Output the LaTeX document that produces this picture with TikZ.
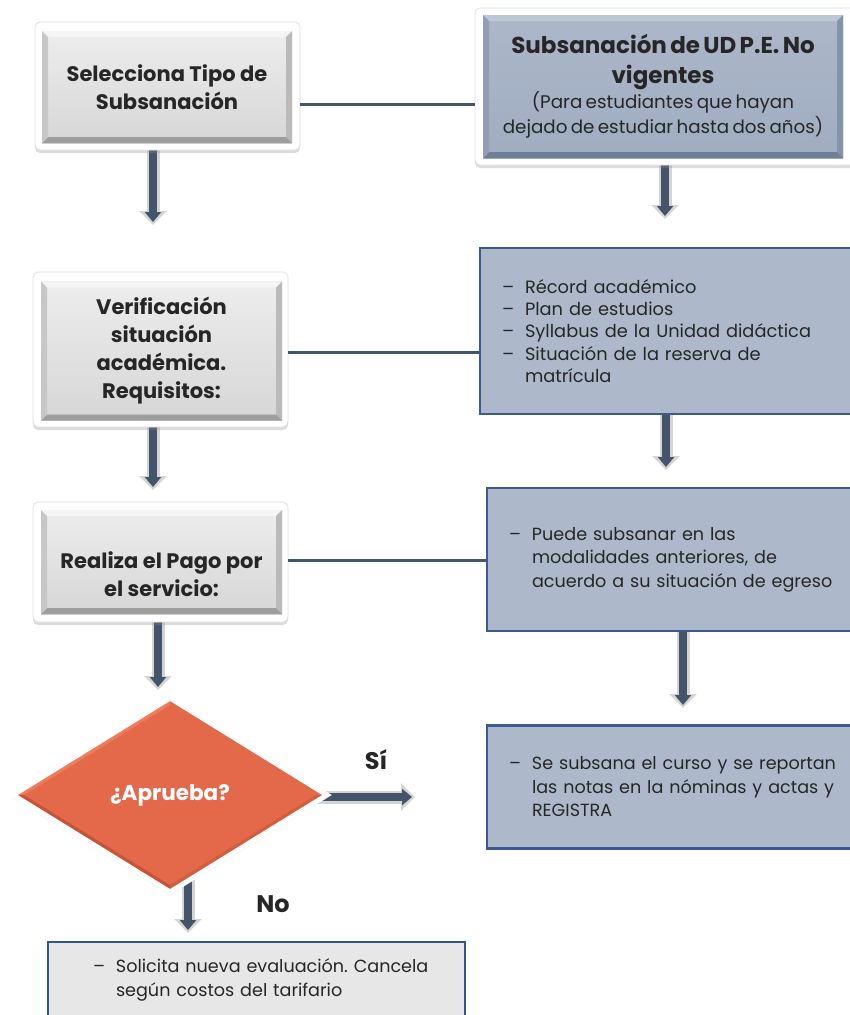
\documentclass[tikz,border=0pt]{standalone}
\usepackage{fontspec}
\setmainfont{Poppins}
\frenchspacing
\usetikzlibrary{arrows.meta,shadows,shapes.geometric,calc}

\definecolor{slate}{HTML}{44546A}
\definecolor{ink}{HTML}{262626}
\definecolor{arrowhalo}{HTML}{D4D4D4}
\definecolor{listfill}{HTML}{ADB9CB}
\definecolor{listedge}{HTML}{3C5A8F}
\definecolor{notefill}{HTML}{E7E7E7}
\definecolor{noteedge}{HTML}{2F5597}
\definecolor{decfill}{HTML}{E4694A}
\definecolor{decup}{HTML}{EE7D5C}
\definecolor{decdownl}{HTML}{C85438}
\definecolor{decdownr}{HTML}{D45C3F}
\definecolor{bluetop}{HTML}{ACB7C9}
\definecolor{bluebot}{HTML}{A0ACC0}
\definecolor{bluebevT}{HTML}{BEC7D5}
\definecolor{bluebevR}{HTML}{8492AA}
\definecolor{bluebevB}{HTML}{707E96}
\definecolor{bluebevL}{HTML}{919EB4}

\pgfdeclarelayer{bg}
\pgfsetlayers{bg,main}

% dash bullet and continuation indent for the list boxes (lines never wrap)
\newcommand\dashitem[1]{\mbox{\makebox[23pt][l]{–}#1}}
\newcommand\contline[1]{\mbox{\hspace*{23pt}#1}}

\tikzset{
  % four bevel faces painted inside a rectangular node
  bevel/.style n args={5}{path picture={
    \path (path picture bounding box.south west) coordinate (pp-sw)
          (path picture bounding box.north east) coordinate (pp-ne)
          (path picture bounding box.north west) coordinate (pp-nw)
          (path picture bounding box.south east) coordinate (pp-se);
    \fill[#2] (pp-nw) -- (pp-ne) -- ($(pp-ne)+(-#1,-#1)$) -- ($(pp-nw)+(#1,-#1)$) -- cycle;
    \fill[#3] (pp-ne) -- (pp-se) -- ($(pp-se)+(-#1,#1)$) -- ($(pp-ne)+(-#1,-#1)$) -- cycle;
    \fill[#4] (pp-se) -- (pp-sw) -- ($(pp-sw)+(#1,#1)$) -- ($(pp-se)+(-#1,#1)$) -- cycle;
    \fill[#5] (pp-sw) -- (pp-nw) -- ($(pp-nw)+(#1,-#1)$) -- ($(pp-sw)+(#1,#1)$) -- cycle;
  }},
  frameb/.style={fill=white, draw=black!13, line width=0.8pt, rounded corners=5pt, inner sep=0pt,
    drop shadow={shadow xshift=0pt, shadow yshift=-3pt, opacity=0.3, fill=black!45}},
  graybox/.style={inner sep=0pt, top color=black!7, bottom color=black!16,
    bevel={6pt}{black!4}{black!27}{black!38}{black!22},
    text=ink, align=center, font=\bfseries\fontsize{21}{28}\selectfont},
  bluebox/.style={inner sep=0pt, top color=bluetop, bottom color=bluebot,
    bevel={6pt}{bluebevT}{bluebevR}{bluebevB}{bluebevL},
    text=ink, align=center},
  listbox/.style={fill=listfill, draw=listedge, line width=2.2pt, inner ysep=0pt,
    inner xsep=22pt, text=ink, align=left, font=\fontsize{17.6}{23.5}\selectfont},
  conn/.style={draw=slate, line width=3pt},
  haloarrow/.style={draw=arrowhalo, line width=13pt, shorten >=-3pt,
    -{Triangle[width=27pt,length=14pt]}},
  inkarrow/.style={draw=slate, line width=8pt,
    -{Triangle[width=16pt,length=10pt]}},
  tag/.style={text=ink, font=\bfseries\fontsize{24}{28}\selectfont}
}

\begin{document}
\begin{tikzpicture}[x=1pt, y=-1pt]
\useasboundingbox (0,0) rectangle (849,1015);

% ---------- left column: process boxes ----------
\node[frameb, minimum width=265pt, minimum height=128pt] (f1) at (167.5,86) {};
\node[graybox, minimum width=250pt, minimum height=112pt] (b1) at (167,87)
  {Selecciona Tipo de\\Subsanación};

\node[frameb, minimum width=255pt, minimum height=155pt] (f3) at (160.5,349.5) {};
\node[graybox, minimum width=241pt, minimum height=139pt] (b3) at (161.5,351)
  {Verificación\\situación\\académica.\\Requisitos:};

\node[frameb, minimum width=255pt, minimum height=120pt] (f5) at (160.5,562) {};
\node[graybox, minimum width=241pt, minimum height=104pt] (b5) at (161.5,562)
  {\parbox{236pt}{\centering\vspace*{24pt}Realiza el Pago por\\el servicio:}};

% ---------- right column ----------
\node[frameb, minimum width=381pt, minimum height=157pt] (f2) at (665.5,86.5) {};
\node[bluebox, minimum width=360pt, minimum height=143pt, text width=356pt] (b2) at (663,86.5)
  {{\bfseries\fontsize{23}{30}\selectfont Subsanación de UD P.E. No\\vigentes\par}%
   {\fontsize{18.3}{25}\selectfont (Para estudiantes que hayan\\dejado de estudiar hasta dos años)\par}};

\node[listbox, minimum width=372pt, minimum height=166pt, text width=328pt,
      font=\fontsize{17.8}{22.3}\selectfont] (b4) at (666,331)
  {\dashitem{Récord académico}\\
   \dashitem{Plan de estudios}\\
   \dashitem{Syllabus de la Unidad didáctica}\\
   \dashitem{Situación de la reserva de}\\
   \contline{matrícula}};

\node[listbox, minimum width=365pt, minimum height=143pt, text width=321pt] (b6) at (669.5,559.5)
  {\dashitem{Puede subsanar en las}\\
   \contline{modalidades anteriores, de}\\
   \contline{acuerdo a su situación de egreso}};

\node[listbox, minimum width=365pt, minimum height=123pt, text width=321pt] (b8) at (669.5,787)
  {\dashitem{Se subsana el curso y se reportan}\\
   \contline{las notas en la nóminas y actas y}\\
   \contline{REGISTRA}};

\node[listbox, fill=notefill, draw=noteedge, inner xsep=45pt, minimum width=417pt,
      minimum height=76pt, text width=327pt] (b9) at (256.5,980)
  {\dashitem{Solicita nueva evaluación. Cancela}\\
   \contline{según costos del tarifario}};

% ---------- decision ----------
\node[diamond, inner sep=0pt, minimum width=316pt, minimum height=196pt,
      fill=decfill, draw=white, line width=5pt,
      drop shadow={shadow xshift=0pt, shadow yshift=-3pt, opacity=0.35, fill=black!45},
      path picture={
        \path (path picture bounding box.west) coordinate (dq-l)
              (path picture bounding box.north) coordinate (dq-t)
              (path picture bounding box.east) coordinate (dq-r)
              (path picture bounding box.south) coordinate (dq-b);
        \fill[decup] (dq-l) -- (dq-t) -- ($(dq-t)+(0,-7pt)$) -- ($(dq-l)+(11pt,0)$) -- cycle;
        \fill[decdownl] (dq-l) -- (dq-b) -- ($(dq-b)+(0,7pt)$) -- ($(dq-l)+(11pt,0)$) -- cycle;
        \fill[decdownr] (dq-b) -- (dq-r) -- ($(dq-r)+(-11pt,0)$) -- ($(dq-b)+(0,7pt)$) -- cycle;
      },
      text=white, font=\bfseries\fontsize{21.5}{24}\selectfont] (d) at (170,795) {¿Aprueba?};

\node[tag] (si) at (376,760) {Sí};
\node[tag] (no) at (273,904) {No};

% ---------- connectors ----------
\coordinate (y1) at (0,104);
\coordinate (y3) at (0,352);
\coordinate (y5) at (0,560);
\draw[conn] (f1.east |- y1) -- (f2.west |- y1);
\draw[conn] (f3.east |- y3) -- (b4.west |- y3);
\draw[conn] (f5.east |- y5) -- (b6.west |- y5);

% arrow tips
\coordinate (a1) at (153,222);
\coordinate (a2) at (665,216);
\coordinate (a3) at (153,487);
\coordinate (a4) at (666,467);
\coordinate (a5) at (158,687);
\coordinate (a6) at (683,705);
\coordinate (a7) at (188,930);
\coordinate (a8) at (412,797);

\begin{pgfonlayer}{bg}
  \foreach \s/\e in {f1/a1, f2/a2, f3/a3, b4/a4, f5/a5, b6/a6} {
    \draw[haloarrow] (\s.south -| \e) -- (\e);
    \draw[inkarrow] (\s.south -| \e) -- (\e);
  }
  \draw[haloarrow] (d.center -| a7) -- (a7);
  \draw[inkarrow] (d.center -| a7) -- (a7);
  \draw[haloarrow] (d.center |- a8) -- (a8);
  \draw[inkarrow] (d.center |- a8) -- (a8);
\end{pgfonlayer}
\end{tikzpicture}
\end{document}
